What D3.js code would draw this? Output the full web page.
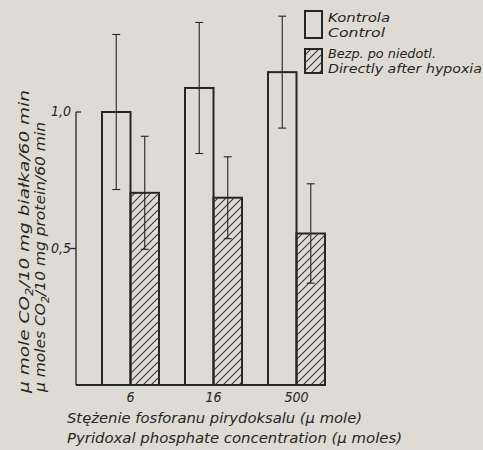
<!DOCTYPE html>
<html><head><meta charset="utf-8">
<script src="https://cdn.jsdelivr.net/npm/d3@7/dist/d3.min.js"></script>
<style>
html,body{margin:0;padding:0;background:#dddbd3;}
svg{display:block;}
text{font-family:"DejaVu Sans Condensed","Liberation Sans Narrow","Liberation Sans",sans-serif;font-style:italic;fill:#262626;}
</style></head>
<body>
<svg id="chart" width="483" height="450"></svg>
<script>
const categories = ["6", "16", "500"];
const seriesNames = ["Control", "Directly after hypoxia"];
const controlValues = [1.0, 1.088, 1.146];
const controlErrors = [0.284, 0.24, 0.205];
const hypoxiaValues = [0.704, 0.686, 0.555];
const hypoxiaErrors = [0.207, 0.15, 0.182];
const yTicks = [0.5, 1.0];
const yTickLabels = ["0,5", "1,0"];
const legendLines = [["Kontrola", "Control"], ["Bezp. po niedotl.", "Directly after hypoxia"]];
const xTitle = ["Stężenie fosforanu pirydoksalu (μ mole)", "Pyridoxal phosphate concentration (μ moles)"];

const ink = "#262626";
const svg = d3.select("#chart");
const defs = svg.append("defs");
const pat = defs.append("pattern").attr("id","hatch").attr("patternUnits","userSpaceOnUse")
  .attr("width",8).attr("height",8);
pat.append("path").attr("d","M-2,2 L2,-2 M0,8 L8,0 M6,10 L10,6")
  .attr("stroke","#3a3a3a").attr("stroke-width",1.1);

const x0 = 76, x1 = 326, yBase = 385;
const y = d3.scaleLinear().domain([0, 1]).range([yBase, 112]);
const xg = d3.scaleBand().domain(categories).range([89, 338]).padding(0);
const groupCenter = c => xg(c) + xg.bandwidth() / 2;
const barW = 28.5;

// axes
svg.append("line").attr("x1",x0).attr("x2",x0).attr("y1",y(1.0)).attr("y2",yBase)
  .attr("stroke",ink).attr("stroke-width",1.3);
svg.append("line").attr("x1",x0).attr("x2",x1).attr("y1",yBase).attr("y2",yBase)
  .attr("stroke",ink).attr("stroke-width",2);
yTicks.forEach((t,i)=>{
  const yy = y(t);
  if (t === 1.0) {
    svg.append("line").attr("x1",x0).attr("x2",x0+5).attr("y1",yy).attr("y2",yy).attr("stroke",ink).attr("stroke-width",1.3);
  } else {
    svg.append("line").attr("x1",x0-6).attr("x2",x0).attr("y1",yy).attr("y2",yy).attr("stroke",ink).attr("stroke-width",1.3);
  }
  svg.append("text").attr("x",x0-5).attr("y",yy+4).attr("text-anchor","end")
    .attr("font-size",14).text(yTickLabels[i]);
});

// bars
categories.forEach((c,i)=>{
  const cx = groupCenter(c);
  const cL = cx - barW, hL = cx;
  svg.append("rect").attr("x",cL).attr("y",y(controlValues[i])).attr("width",barW)
    .attr("height",yBase - y(controlValues[i])).attr("fill","none").attr("stroke",ink).attr("stroke-width",2);
  svg.append("rect").attr("x",hL).attr("y",y(hypoxiaValues[i])).attr("width",barW)
    .attr("height",yBase - y(hypoxiaValues[i])).attr("fill","url(#hatch)").attr("stroke",ink).attr("stroke-width",2);
  const eb = (xc, v, e) => {
    const g = svg.append("g").attr("stroke",ink).attr("stroke-width",1.1);
    g.append("line").attr("x1",xc).attr("x2",xc).attr("y1",y(v+e)).attr("y2",y(v-e));
    g.append("line").attr("x1",xc-4).attr("x2",xc+4).attr("y1",y(v+e)).attr("y2",y(v+e));
    g.append("line").attr("x1",xc-4).attr("x2",xc+4).attr("y1",y(v-e)).attr("y2",y(v-e));
  };
  eb(cL + barW/2, controlValues[i], controlErrors[i]);
  eb(hL + barW/2, hypoxiaValues[i], hypoxiaErrors[i]);
  svg.append("text").attr("x",cx).attr("y",402).attr("text-anchor","middle").attr("font-size",14).text(c);
});

// x title
svg.append("text").attr("x",67).attr("y",423).attr("font-size",14.5).attr("textLength",295).attr("lengthAdjust","spacingAndGlyphs").text(xTitle[0]);
svg.append("text").attr("x",67).attr("y",443).attr("font-size",14.5).attr("textLength",335).attr("lengthAdjust","spacingAndGlyphs").text(xTitle[1]);

// y title
const yt1 = svg.append("text").attr("transform","translate(29,393) rotate(-90)").attr("font-size",14)
  .attr("textLength",303).attr("lengthAdjust","spacingAndGlyphs");
yt1.append("tspan").text("μ mole CO");
yt1.append("tspan").attr("font-size",10).attr("dy",4).text("2");
yt1.append("tspan").attr("dy",-4).text("/10 mg białka/60 min");
const yt2 = svg.append("text").attr("transform","translate(45,392) rotate(-90)").attr("font-size",14)
  .attr("textLength",270).attr("lengthAdjust","spacingAndGlyphs");
yt2.append("tspan").text("μ moles CO");
yt2.append("tspan").attr("font-size",10).attr("dy",4).text("2");
yt2.append("tspan").attr("dy",-4).text("/10 mg protein/60 min");

// legend
const lg = svg.append("g");
lg.append("rect").attr("x",305).attr("y",11).attr("width",17).attr("height",27).attr("fill","none").attr("stroke",ink).attr("stroke-width",2);
lg.append("rect").attr("x",305).attr("y",49).attr("width",17).attr("height",24).attr("fill","url(#hatch)").attr("stroke",ink).attr("stroke-width",2);
const legY = [[22, 37], [58, 73]];
const legW = [[62, 57], [108, 154]];
legendLines.forEach((lines,i)=>{
  lines.forEach((t,j)=>{
    lg.append("text").attr("x",328).attr("y",legY[i][j]).attr("font-size",12.5)
      .attr("textLength",legW[i][j]).attr("lengthAdjust","spacingAndGlyphs").text(t);
  });
});
</script>
</body></html>
